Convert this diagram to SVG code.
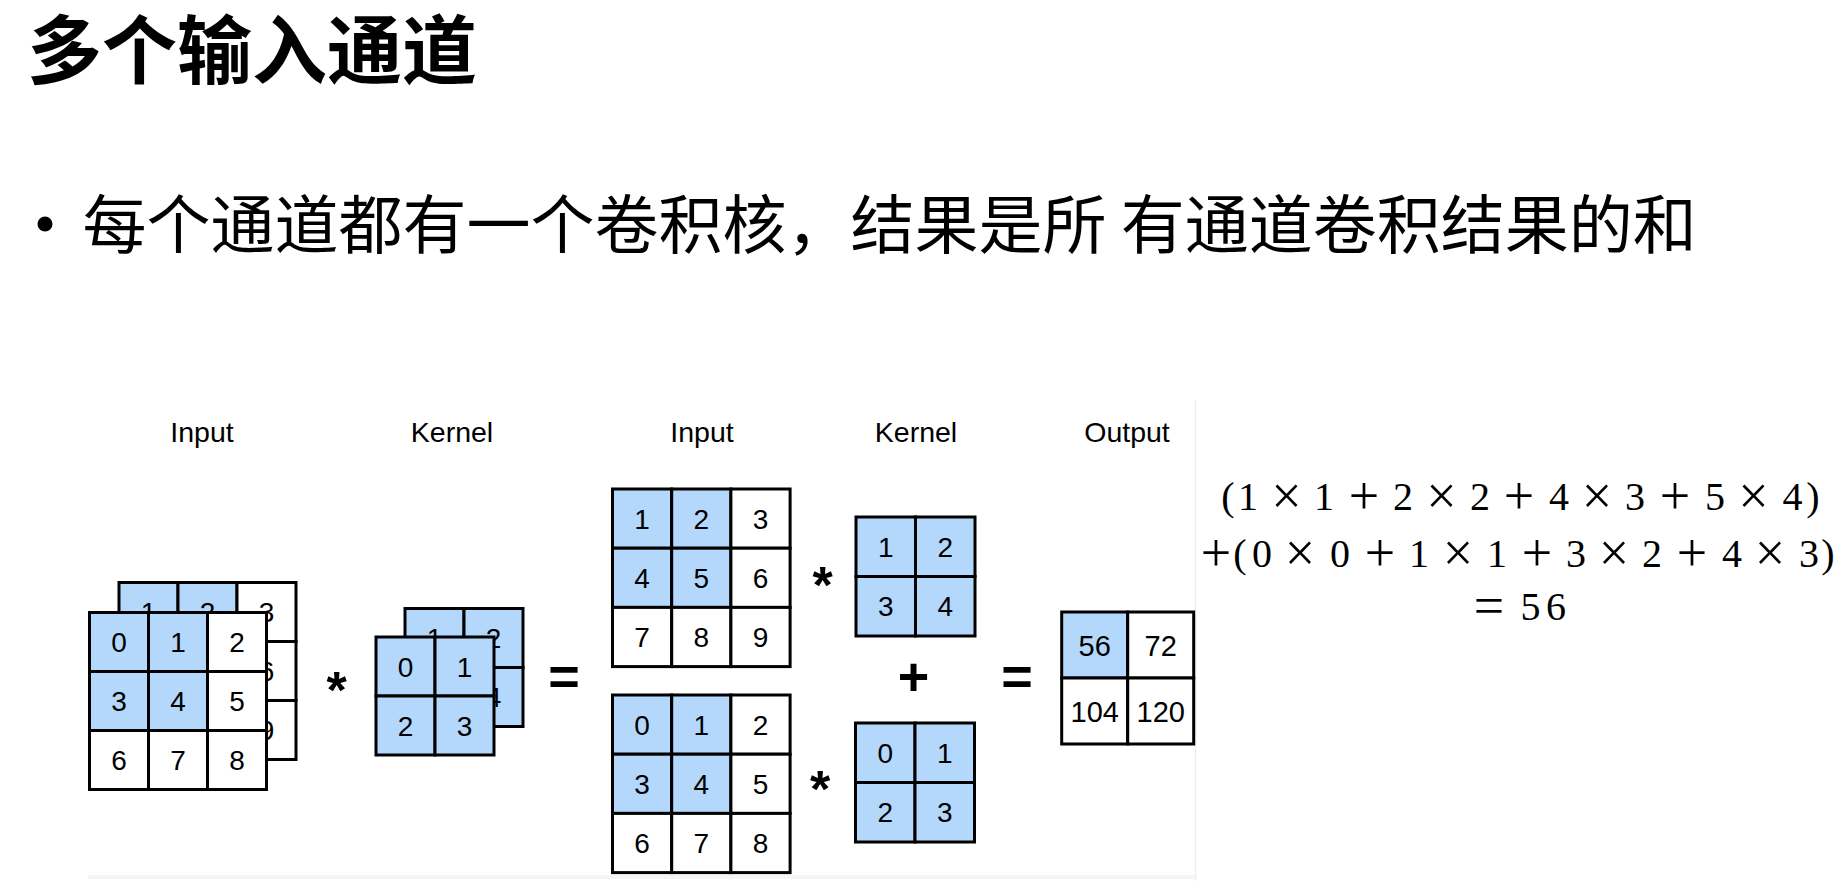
<svg xmlns="http://www.w3.org/2000/svg" width="1840" height="881" viewBox="0 0 1840 881">
<style>
.c{stroke:#000;stroke-width:3}
.b{fill:#b3d8fc}
.w{fill:#fff}
.n{font-family:"Liberation Sans",Arial,sans-serif;font-size:28px;text-anchor:middle;fill:#000}
.no{font-family:"Liberation Sans",Arial,sans-serif;font-size:29px;text-anchor:middle;fill:#000}
.lbl{font-family:"Liberation Sans",Arial,sans-serif;font-size:28.5px;text-anchor:middle;fill:#000}
.sym{font-family:"Liberation Sans",Arial,sans-serif;font-weight:bold;text-anchor:middle;fill:#000}
.f{font-family:"Liberation Serif","Times New Roman",serif;font-size:40px;text-anchor:middle;fill:#000}
.op{font-size:54px}
.cjk{font-family:"Noto Sans CJK SC","Noto Sans",sans-serif;fill:#000}
</style>
<rect width="1840" height="881" fill="#fff"/>
<g id="frame">
<line x1="1195.5" y1="400" x2="1195.5" y2="881" stroke="#efefef" stroke-width="1.5"/>
<rect x="88" y="875" width="1107" height="4" fill="#f5f5f5"/>
</g>
<g id="title"><text class="cjk" x="27" y="78" font-size="75" font-weight="bold">多个输入通道</text></g>
<g id="bullet">
<circle cx="45" cy="224" r="7.5" fill="#000"/>
<text class="cjk" x="82.5" y="248" font-size="64">每个通道都有一个卷积核，结果是所 有通道卷积结果的和</text>
</g>
<g id="labels">
<text class="lbl" x="202" y="442">Input</text>
<text class="lbl" x="452" y="442">Kernel</text>
<text class="lbl" x="702" y="442">Input</text>
<text class="lbl" x="916" y="442">Kernel</text>
<text class="lbl" x="1127" y="442">Output</text>
</g>
<g id="input1-back">
<rect class="c b" x="119" y="582.5" width="59" height="59"/><rect class="c b" x="178" y="582.5" width="59" height="59"/><rect class="c w" x="237" y="582.5" width="59" height="59"/>
<rect class="c b" x="119" y="641.5" width="59" height="59"/><rect class="c b" x="178" y="641.5" width="59" height="59"/><rect class="c w" x="237" y="641.5" width="59" height="59"/>
<rect class="c w" x="119" y="700.5" width="59" height="59"/><rect class="c w" x="178" y="700.5" width="59" height="59"/><rect class="c w" x="237" y="700.5" width="59" height="59"/>
<text class="n" x="148.5" y="622">1</text><text class="n" x="207.5" y="622">2</text><text class="n" x="266.5" y="622">3</text>
<text class="n" x="148.5" y="681">4</text><text class="n" x="207.5" y="681">5</text><text class="n" x="266.5" y="681">6</text>
<text class="n" x="148.5" y="740">7</text><text class="n" x="207.5" y="740">8</text><text class="n" x="266.5" y="740">9</text>
</g>
<g id="input1-front">
<rect class="c b" x="89.5" y="612.5" width="59" height="59"/><rect class="c b" x="148.5" y="612.5" width="59" height="59"/><rect class="c w" x="207.5" y="612.5" width="59" height="59"/>
<rect class="c b" x="89.5" y="671.5" width="59" height="59"/><rect class="c b" x="148.5" y="671.5" width="59" height="59"/><rect class="c w" x="207.5" y="671.5" width="59" height="59"/>
<rect class="c w" x="89.5" y="730.5" width="59" height="59"/><rect class="c w" x="148.5" y="730.5" width="59" height="59"/><rect class="c w" x="207.5" y="730.5" width="59" height="59"/>
<text class="n" x="119" y="652">0</text><text class="n" x="178" y="652">1</text><text class="n" x="237" y="652">2</text>
<text class="n" x="119" y="711">3</text><text class="n" x="178" y="711">4</text><text class="n" x="237" y="711">5</text>
<text class="n" x="119" y="770">6</text><text class="n" x="178" y="770">7</text><text class="n" x="237" y="770">8</text>
</g>
<g id="kernel1-back">
<rect class="c b" x="405" y="608.5" width="59" height="59"/><rect class="c b" x="464" y="608.5" width="59" height="59"/>
<rect class="c b" x="405" y="667.5" width="59" height="59"/><rect class="c b" x="464" y="667.5" width="59" height="59"/>
<text class="n" x="434.5" y="648">1</text><text class="n" x="493.5" y="648">2</text>
<text class="n" x="434.5" y="707">3</text><text class="n" x="493.5" y="707">4</text>
</g>
<g id="kernel1-front">
<rect class="c b" x="376" y="637" width="59" height="59"/><rect class="c b" x="435" y="637" width="59" height="59"/>
<rect class="c b" x="376" y="696" width="59" height="59"/><rect class="c b" x="435" y="696" width="59" height="59"/>
<text class="n" x="405.5" y="676.5">0</text><text class="n" x="464.5" y="676.5">1</text>
<text class="n" x="405.5" y="735.5">2</text><text class="n" x="464.5" y="735.5">3</text>
</g>
<g id="input2-top">
<rect class="c b" x="612.5" y="489" width="59.2" height="59.2"/><rect class="c b" x="671.7" y="489" width="59.2" height="59.2"/><rect class="c w" x="730.9" y="489" width="59.2" height="59.2"/>
<rect class="c b" x="612.5" y="548.2" width="59.2" height="59.2"/><rect class="c b" x="671.7" y="548.2" width="59.2" height="59.2"/><rect class="c w" x="730.9" y="548.2" width="59.2" height="59.2"/>
<rect class="c w" x="612.5" y="607.4" width="59.2" height="59.2"/><rect class="c w" x="671.7" y="607.4" width="59.2" height="59.2"/><rect class="c w" x="730.9" y="607.4" width="59.2" height="59.2"/>
<text class="n" x="642.1" y="528.6">1</text><text class="n" x="701.3" y="528.6">2</text><text class="n" x="760.5" y="528.6">3</text>
<text class="n" x="642.1" y="587.8">4</text><text class="n" x="701.3" y="587.8">5</text><text class="n" x="760.5" y="587.8">6</text>
<text class="n" x="642.1" y="647">7</text><text class="n" x="701.3" y="647">8</text><text class="n" x="760.5" y="647">9</text>
</g>
<g id="input2-bottom">
<rect class="c b" x="612.5" y="695" width="59.2" height="59.2"/><rect class="c b" x="671.7" y="695" width="59.2" height="59.2"/><rect class="c w" x="730.9" y="695" width="59.2" height="59.2"/>
<rect class="c b" x="612.5" y="754.2" width="59.2" height="59.2"/><rect class="c b" x="671.7" y="754.2" width="59.2" height="59.2"/><rect class="c w" x="730.9" y="754.2" width="59.2" height="59.2"/>
<rect class="c w" x="612.5" y="813.4" width="59.2" height="59.2"/><rect class="c w" x="671.7" y="813.4" width="59.2" height="59.2"/><rect class="c w" x="730.9" y="813.4" width="59.2" height="59.2"/>
<text class="n" x="642.1" y="734.6">0</text><text class="n" x="701.3" y="734.6">1</text><text class="n" x="760.5" y="734.6">2</text>
<text class="n" x="642.1" y="793.8">3</text><text class="n" x="701.3" y="793.8">4</text><text class="n" x="760.5" y="793.8">5</text>
<text class="n" x="642.1" y="853">6</text><text class="n" x="701.3" y="853">7</text><text class="n" x="760.5" y="853">8</text>
</g>
<g id="kernel2-top">
<rect class="c b" x="856" y="517" width="59.5" height="59.5"/><rect class="c b" x="915.5" y="517" width="59.5" height="59.5"/>
<rect class="c b" x="856" y="576.5" width="59.5" height="59.5"/><rect class="c b" x="915.5" y="576.5" width="59.5" height="59.5"/>
<text class="n" x="885.75" y="556.75">1</text><text class="n" x="945.25" y="556.75">2</text>
<text class="n" x="885.75" y="616.25">3</text><text class="n" x="945.25" y="616.25">4</text>
</g>
<g id="kernel2-bottom">
<rect class="c b" x="855.5" y="723" width="59.5" height="59.5"/><rect class="c b" x="915" y="723" width="59.5" height="59.5"/>
<rect class="c b" x="855.5" y="782.5" width="59.5" height="59.5"/><rect class="c b" x="915" y="782.5" width="59.5" height="59.5"/>
<text class="n" x="885.25" y="762.75">0</text><text class="n" x="944.75" y="762.75">1</text>
<text class="n" x="885.25" y="822.25">2</text><text class="n" x="944.75" y="822.25">3</text>
</g>
<g id="output">
<rect class="c b" x="1061.7" y="612" width="66" height="66"/><rect class="c w" x="1127.7" y="612" width="66" height="66"/>
<rect class="c w" x="1061.7" y="678" width="66" height="66"/><rect class="c w" x="1127.7" y="678" width="66" height="66"/>
<text class="no" x="1094.7" y="655.5">56</text><text class="no" x="1160.7" y="655.5">72</text>
<text class="no" x="1094.7" y="721.5">104</text><text class="no" x="1160.7" y="721.5">120</text>
</g>
<g id="operators">
<text class="sym" x="336.5" y="708" font-size="52">*</text>
<text class="sym" x="822.5" y="603" font-size="52">*</text>
<text class="sym" x="820" y="807" font-size="52">*</text>
<text class="sym" x="564" y="695" font-size="54">=</text>
<text class="sym" x="1017" y="695" font-size="54">=</text>
<text class="sym" x="913.5" y="695" font-size="54">+</text>
</g>
<g id="connectors"/>
<g id="formula">
<text class="f" y="510" x="1228 1248 1267 1286.5 1305 1324 1344 1364 1383 1403 1422 1441.5 1461 1480 1500 1519 1539 1559 1578 1597 1616 1635 1655 1675 1695 1715 1734 1753.5 1773 1792.5 1813">(1 <tspan class="op" dy="4">×</tspan><tspan dy="-4"> </tspan>1 <tspan class="op" dy="4">+</tspan><tspan dy="-4"> </tspan>2 <tspan class="op" dy="4">×</tspan><tspan dy="-4"> </tspan>2 <tspan class="op" dy="4">+</tspan><tspan dy="-4"> </tspan>4 <tspan class="op" dy="4">×</tspan><tspan dy="-4"> </tspan>3 <tspan class="op" dy="4">+</tspan><tspan dy="-4"> </tspan>5 <tspan class="op" dy="4">×</tspan><tspan dy="-4"> </tspan>4)</text>
<text class="f" y="567" x="1216 1240 1262 1281 1300 1320 1340 1360 1380 1400 1419 1439 1458 1478 1497 1517 1537 1557 1576 1595 1614 1633 1652 1672 1692 1712 1732 1751 1770 1789 1809 1828"><tspan class="op" dy="4">+</tspan><tspan dy="-4">(</tspan>0 <tspan class="op" dy="4">×</tspan><tspan dy="-4"> </tspan>0 <tspan class="op" dy="4">+</tspan><tspan dy="-4"> </tspan>1 <tspan class="op" dy="4">×</tspan><tspan dy="-4"> </tspan>1 <tspan class="op" dy="4">+</tspan><tspan dy="-4"> </tspan>3 <tspan class="op" dy="4">×</tspan><tspan dy="-4"> </tspan>2 <tspan class="op" dy="4">+</tspan><tspan dy="-4"> </tspan>4 <tspan class="op" dy="4">×</tspan><tspan dy="-4"> </tspan>3)</text>
<text class="f" y="620" x="1489 1509 1530.5 1556"><tspan class="op" dy="4">=</tspan><tspan dy="-4"> </tspan>56</text>
</g>
</svg>
